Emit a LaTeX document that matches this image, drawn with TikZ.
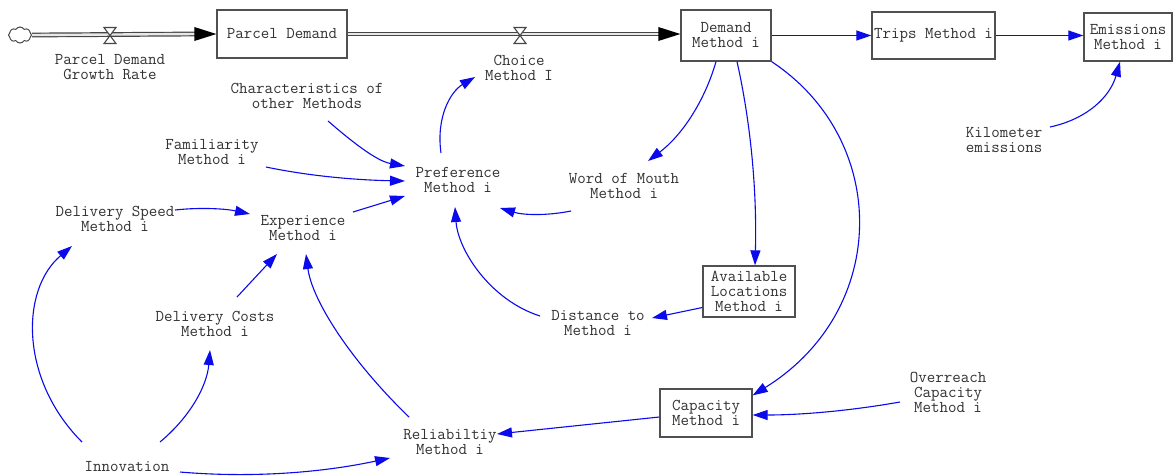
\documentclass[tikz,border=0pt]{standalone}
\usepackage{fontspec}
\usetikzlibrary{arrows.meta,shapes.symbols}
\definecolor{linkc}{RGB}{10,10,235}
\definecolor{txtc}{RGB}{50,50,50}
\definecolor{boxc}{RGB}{80,80,80}
\definecolor{pipec}{RGB}{70,70,70}
\begin{document}
\begin{tikzpicture}[x=1pt,y=-1pt,
  lbl/.style={align=center,inner sep=0pt,text=txtc,
    font=\ttfamily\fontsize{16.5}{15}\selectfont},
  stock/.style={lbl,draw=boxc,line width=1.3pt,fill=white},
  lnk/.style={draw=linkc,line width=1.1pt,-{Triangle[length=15pt,width=10pt]}},
  pipe/.style={draw=pipec,line width=1.2pt,double=white!82!gray,double distance=2.4pt},
  valve/.style={draw=pipec,line width=1.1pt,fill=white,line join=miter},
  head/.style={fill=black}]
\useasboundingbox (0,0) rectangle (1174,475);
\fill[white] (0,0) rectangle (1174,475);

% stocks
\node[stock,minimum width=130pt,minimum height=48pt] (pd) at (282,34) {Parcel Demand};
\node[stock,minimum width=90pt,minimum height=51pt] (dm) at (726,35.5) {Demand\\Method i};
\node[stock,minimum width=123pt,minimum height=47pt] (trips) at (933.5,35.5) {Trips Method i};
\node[stock,minimum width=88pt,minimum height=48pt] (em) at (1128,37) {Emissions\\Method i};
\node[stock,minimum width=92pt,minimum height=51pt] (av) at (749,291.5) {Available\\Locations\\Method i};
\node[stock,minimum width=92pt,minimum height=48pt] (cap) at (706,413) {Capacity\\Method i};

% source cloud
\node[cloud,cloud puffs=8,cloud puff arc=120,aspect=1.5,draw=pipec,line width=1pt,
  minimum width=23pt,minimum height=16pt,inner sep=0pt] (src) at (20,35) {};

% flows
\coordinate (v1) at (110,35.5);
\coordinate (v2) at (520,35.5);
\draw[pipe] (src.east) -- ([shift={(-20,0)}]pd.west);
\fill[head] ([shift={(-22,-7)}]pd.west) -- (pd.west) -- ([shift={(-22,7)}]pd.west) -- cycle;
\draw[pipe] (pd.east) -- ([shift={(-20,0)}]pd.east -| dm.west);
\fill[head] ([shift={(-22,-7)}]pd.east -| dm.west) -- (pd.east -| dm.west)
  -- ([shift={(-22,7)}]pd.east -| dm.west) -- cycle;
\draw[valve] ([shift={(-6,-8)}]v1) -- ([shift={(6,-8)}]v1) -- ([shift={(-6,8)}]v1)
  -- ([shift={(6,8)}]v1) -- cycle;
\draw[valve] ([shift={(-6,-8)}]v2) -- ([shift={(6,-8)}]v2) -- ([shift={(-6,8)}]v2)
  -- ([shift={(6,8)}]v2) -- cycle;

% auxiliaries
\node[lbl] (growth) at (110,67) {Parcel Demand\\Growth Rate};
\node[lbl] (choice) at (519,68) {Choice\\Method I};
\node[lbl] (km) at (1004,140) {Kilometer\\emissions};
\node[lbl] (char) at (307,96) {Characteristics of\\other Methods};
\node[lbl] (fam) at (212,152) {Familiarity\\Method i};
\node[lbl] (pref) at (458,180) {Preference\\Method i};
\node[lbl] (wom) at (624,186) {Word of Mouth\\Method i};
\node[lbl] (speed) at (115,219) {Delivery Speed\\Method i};
\node[lbl] (exp) at (303,228) {Experience\\Method i};
\node[lbl] (costs) at (215,324) {Delivery Costs\\Method i};
\node[lbl] (dist) at (598,323) {Distance to\\Method i};
\node[lbl] (over) at (948,392) {Overreach\\Capacity\\Method i};
\node[lbl] (rel) at (450,442) {Reliabiltiy\\Method i};
\node[lbl] (innov) at (127,466) {Innovation};

% links
\draw[lnk] (dm.east) -- (trips.west);
\draw[lnk] (trips.east) -- (trips.east -| em.west);
\draw[lnk] ([shift={(46,-13)}]km.center) .. controls (1087,119) and (1110,97) .. ([shift={(-8,0)}]em.south);
\draw[lnk] ([shift={(21,25)}]char.center) .. controls (350,140) and (376,161) .. ([shift={(-53,-14)}]pref.center);
\draw[lnk] ([shift={(54,15)}]fam.center) .. controls (309,176) and (355,180) .. ([shift={(-53,1)}]pref.center);
\draw[lnk] ([shift={(50,-16)}]exp.center) -- ([shift={(-53,16)}]pref.center);
\draw[lnk] ([shift={(-17,-27)}]pref.center) .. controls (436,118) and (450,92) .. ([shift={(-44,9)}]choice.center);
\draw[lnk] ([shift={(60,-9)}]speed.center) .. controls (202,207) and (227,209) .. ([shift={(-53,-14)}]exp.center);
\draw[lnk] ([shift={(22,-27)}]costs.center) -- ([shift={(-26,26)}]exp.center);
\draw[lnk] ([shift={(-41,-25)}]rel.center) .. controls (350,360) and (312,300) .. ([shift={(3,26)}]exp.center);
\draw[lnk] ([shift={(-45,-24)}]innov.center) .. controls (20,380) and (20,290) .. ([shift={(-43,27)}]speed.center);
\draw[lnk] ([shift={(33,-24)}]innov.center) .. controls (190,417) and (207,386) .. ([shift={(-5,26)}]costs.center);
\draw[lnk] ([shift={(53,6)}]innov.center) .. controls (250,478) and (320,473) .. ([shift={(-60,16)}]rel.center);
\draw[lnk] ([shift={(-10,0)}]dm.south) .. controls (704,103) and (681,136) .. ([shift={(24,-25)}]wom.center);
\draw[lnk] ([shift={(-53,25)}]wom.center) .. controls (546,216) and (523,215) .. ([shift={(42,28)}]pref.center);
\draw[lnk] ([shift={(11,0)}]dm.south) .. controls (751,124) and (757,192) .. ([shift={(6,0)}]av.north);
\draw[lnk] ([shift={(0,16)}]av.west) -- ([shift={(54,-5)}]dist.center);
\draw[lnk] ([shift={(-58,-7)}]dist.center) .. controls (490,300) and (458,250) .. ([shift={(-3,27)}]pref.center);
\draw[lnk] (dm.south east) .. controls (890,140) and (890,310) .. ([shift={(0,7)}]cap.north east);
\draw[lnk] ([shift={(-48,10)}]over.center) .. controls (849,411) and (800,415) .. ([shift={(0,2)}]cap.east);
\draw[lnk] ([shift={(0,4)}]cap.west) -- ([shift={(47,-8)}]rel.center);
\end{tikzpicture}
\end{document}
